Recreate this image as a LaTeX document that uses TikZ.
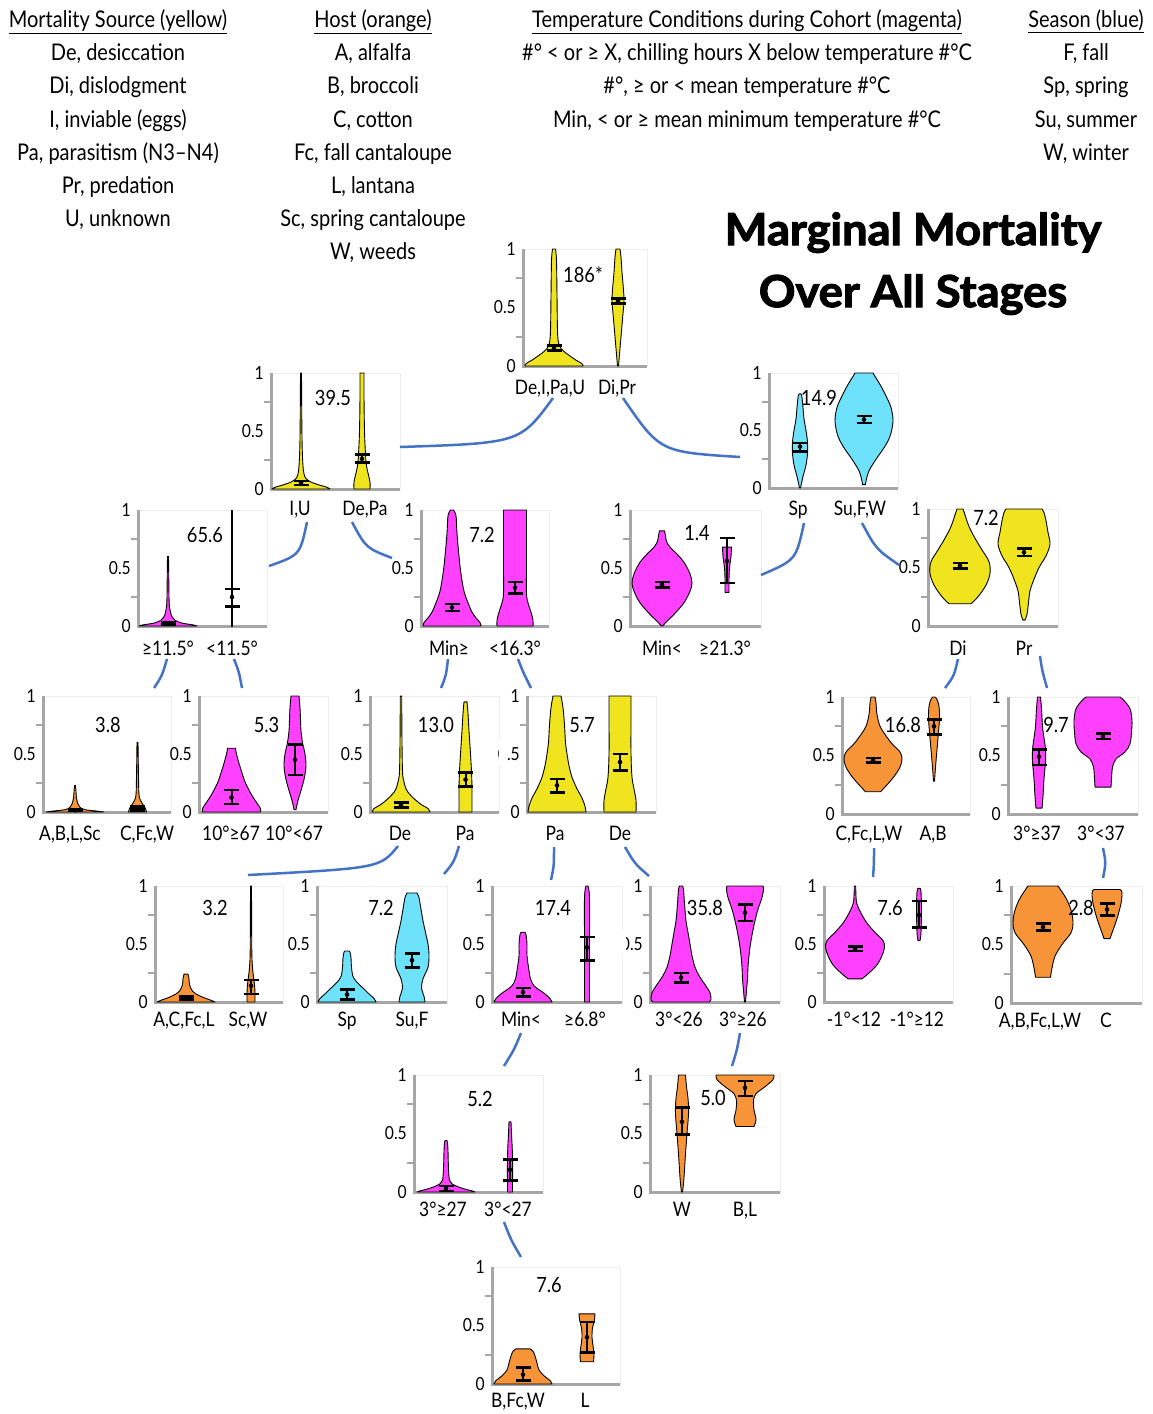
\documentclass[tikz,border=0pt]{standalone}
\usepackage{fontspec}
\setmainfont{Lato}[FakeStretch=0.87]
\newfontfamily\titlefont{Lato}[FakeStretch=1.03,FakeBold=2.5]
\definecolor{vyellow}{RGB}{240,228,30}
\definecolor{vmag}{RGB}{255,64,255}
\definecolor{vcyan}{RGB}{110,226,250}
\definecolor{vorange}{RGB}{247,148,56}
\definecolor{connblue}{RGB}{68,114,196}
\definecolor{axisgray}{RGB}{166,166,166}
\tikzset{
  axisline/.style={draw=axisgray, line width=3pt},
  tickline/.style={draw=axisgray, line width=2pt},
  frameline/.style={draw=black!7, line width=0.6pt},
  violin/.style={draw=black, line width=0.9pt, line join=round},
  ebarv/.style={draw=black, line width=2pt},
  ebarc/.style={draw=black, line width=2.6pt},
  conn/.style={draw=connblue, line width=2.5pt},
  ticklab/.style={font=\fontsize{18}{18}\selectfont, inner sep=0pt, anchor=east},
  lab/.style={font=\fontsize{20}{20}\selectfont, inner sep=0pt, anchor=base},
  num/.style={font=\fontsize{21}{21}\selectfont, inner sep=0pt, anchor=base},
  hdr/.style={font=\fontsize{23}{23}\selectfont, inner sep=0pt, anchor=base},
  ttl/.style={font=\titlefont\bfseries\fontsize{44}{44}\selectfont, inner sep=0pt, anchor=base},
}
% panel: name, ax, y0, right, H
\newcommand\mkpanel[5]{%
  \draw[frameline] (#2,#3-#5) rectangle (#4,#3);
  \draw[tickline] (#2-7,#3-0.25*#5) -- (#2,#3-0.25*#5) (#2-7,#3-0.75*#5) -- (#2,#3-0.75*#5);
  \draw[axisline] (#2,#3-#5) -- (#2,#3) -- (#4,#3);
  \node[ticklab] (#1t1) at (#2-7,#3-#5) {1};
  \node[ticklab] (#1t5) at (#2-7,#3-0.5*#5) {0.5};
  \node[ticklab] (#1t0) at (#2-7,#3) {0};
}
% violin: cx, y0, H, colour, list v/hw
\newcommand\mkviolin[5]{%
  \gdef\vR{}\gdef\vL{}%
  \foreach \vv/\ww in {#5}{\xdef\vR{\vR(#1+\ww,#2-\vv*#3)}\xdef\vL{(#1-\ww,#2-\vv*#3)\vL}}%
  \edef\vtmp{\noexpand\draw[violin,fill=#4] plot[smooth,tension=0.55] coordinates {\vR} -- plot[smooth,tension=0.55] coordinates {\vL} -- cycle;}%
  \vtmp
}
% error bar: cx, y0, H, lo, hi, mean
\newcommand\mkebar[6]{%
  \draw[ebarv] (#1,#2-#4*#3) -- (#1,#2-#5*#3);
  \draw[ebarc] (#1-7.5,#2-#4*#3) -- (#1+7.5,#2-#4*#3) (#1-7.5,#2-#5*#3) -- (#1+7.5,#2-#5*#3);
  \fill (#1,#2-#6*#3) circle (2.3);
}
\begin{document}
\begin{tikzpicture}[x=1pt,y=-1pt]
\useasboundingbox[fill=white] (0,0) rectangle (1152,1414);

% ---------- header ----------
\foreach \t [count=\i from 0] in {{\underline{Mortality Source (yellow)}},{De, desiccation},{Di, dislodgment},{I, inviable (eggs)},{Pa, parasitism (N3–N4)},{Pr, predation},{U, unknown}}
  \node[hdr] (hA\i) at (118,27.5+33.2*\i) {\t};
\foreach \t [count=\i from 0] in {{\underline{Host (orange)}},{A, alfalfa},{B, broccoli},{C, cotton},{Fc, fall cantaloupe},{L, lantana},{Sc, spring cantaloupe},{W, weeds}}
  \node[hdr] (hB\i) at (373,27.5+33.2*\i) {\t};
\foreach \t [count=\i from 0] in {{\underline{Temperature Conditions during Cohort (magenta)}},{\#° < or ≥ X, chilling hours X below temperature \#°C},{\#°, ≥ or < mean temperature \#°C},{Min, < or ≥ mean minimum temperature \#°C}}
  \node[hdr] (hC\i) at (747,27.5+33.2*\i) {\t};
\foreach \t [count=\i from 0] in {{\underline{Season (blue)}},{F, fall},{Sp, spring},{Su, summer},{W, winter}}
  \node[hdr] (hD\i) at (1086,27.5+33.2*\i) {\t};
\node[ttl] (title1) at (913,245) {Marginal Mortality};
\node[ttl] (title2) at (913,307) {Over All Stages};

% ---------- root ----------
\mkpanel{r}{523}{366}{647}{117}
\mkviolin{554}{366}{117}{vyellow}{0/29,0.02/28,0.05/22,0.08/17,0.11/12,0.15/7,0.2/4.5,0.3/3.5,0.6/3,0.9/2.5,1/1.5}
\mkebar{554}{366}{117}{0.135}{0.175}{0.155}
\mkviolin{618}{366}{117}{vyellow}{0/0.5,0.1/1.5,0.3/3.5,0.45/5,0.55/6,0.65/5.5,0.8/4,0.93/3,1/2}
\mkebar{618}{366}{117}{0.535}{0.575}{0.555}
\node[num] (rn) at (583,282) {186*};
\node[lab] (rl1) at (550,394) {De,I,Pa,U};
\node[lab] (rl2) at (617,394) {Di,Pr};

% ---------- A ----------
\mkpanel{a}{271}{489}{400}{116}
\mkviolin{301}{489}{116}{vyellow}{0/29,0.015/26,0.035/18,0.06/10,0.09/5,0.13/3,0.2/2,0.35/1.2,0.6/0.8,1/0.5}
\mkebar{301}{489}{116}{0.035}{0.07}{0.053}
\mkviolin{362}{489}{116}{vyellow}{0/8,0.06/8,0.12/6.5,0.2/4.5,0.3/3.5,0.5/2.5,0.8/2,1/2}
\mkebar{362}{489}{116}{0.23}{0.295}{0.26}
\node[num] (an) at (333,405) {39.5};
\node[lab] (al1) at (300,515) {I,U};
\node[lab] (al2) at (365,515) {De,Pa};

% ---------- B ----------
\mkpanel{b}{769}{488}{898}{115}
\mkviolin{800}{488}{115}{vcyan}{0/0.5,0.1/3,0.2/6,0.3/7.5,0.4/7.5,0.5/6,0.6/4,0.7/3,0.8/1.8,0.82/0.5}
\mkebar{800}{488}{115}{0.32}{0.39}{0.36}
\mkviolin{864}{488}{115}{vcyan}{0.03/1.5,0.08/2.5,0.15/5,0.25/12,0.35/20,0.45/26,0.58/29,0.7/27,0.8/22,0.9/16,0.97/11,1/9}
\mkebar{864}{488}{115}{0.565}{0.625}{0.595}
\node[num] (bn) at (819,405) {14.9};
\node[lab] (bl1) at (798,515) {Sp};
\node[lab] (bl2) at (860,515) {Su,F,W};

% ---------- C ----------
\mkpanel{c}{138}{626}{267}{116}
\mkviolin{168}{626}{116}{vmag}{0/29,0.01/25,0.025/14,0.05/7,0.08/4,0.12/2.5,0.2/1.2,0.4/0.8,0.6/0.5}
\mkebar{168}{626}{116}{0.01}{0.028}{0.02}
\mkviolin{232}{626}{116}{vmag}{0/0.6,1/0.6}
\mkebar{232}{626}{116}{0.17}{0.32}{0.25}
\node[num] (cn) at (205,542) {65.6};
\node[lab] (cl1) at (168,655) {≥11.5°};
\node[lab] (cl2) at (232,655) {<11.5°};

% ---------- D ----------
\mkpanel{d}{421}{626}{549}{116}
\mkviolin{452}{626}{116}{vmag}{0/29,0.03/28,0.07/24,0.12/20,0.2/16,0.3/12,0.45/9,0.6/7,0.8/5,0.95/4,1/1.5}
\mkebar{452}{626}{116}{0.13}{0.19}{0.16}
\mkviolin{515}{626}{116}{vmag}{0/18,0.05/18,0.12/16,0.2/13,0.28/11.5,0.5/11.5,0.8/11.5,1/11.5}
\mkebar{515}{626}{116}{0.28}{0.38}{0.33}
\node[num] (dn) at (482,542) {7.2};
\node[lab] (dl1) at (449,655) {Min≥};
\node[lab] (dl2) at (515,655) {<16.3°};

% ---------- E ----------
\mkpanel{e}{630}{626}{761}{116}
\mkviolin{662}{626}{116}{vmag}{0/0.5,0.05/6,0.1/12,0.2/22,0.3/28,0.37/30,0.45/28,0.55/22,0.62/15,0.68/8,0.73/4.5,0.78/3.5,0.82/2.5}
\mkebar{662}{626}{116}{0.33}{0.38}{0.355}
\mkviolin{727}{626}{116}{vmag}{0.29/2,0.4/2,0.5/2.5,0.6/4,0.68/4.5}
\mkebar{727}{626}{116}{0.37}{0.76}{0.56}
\node[num] (en) at (697,540) {1.4};
\node[lab] (el1) at (662,655) {Min<};
\node[lab] (el2) at (725,655) {≥21.3°};

% ---------- F ----------
\mkpanel{f}{928}{626}{1058}{117}
\mkviolin{960}{626}{117}{vyellow}{0.19/11,0.25/18,0.35/26,0.45/30,0.55/29,0.65/22,0.75/15,0.85/9,0.95/5,1/3}
\mkebar{960}{626}{117}{0.49}{0.54}{0.515}
\mkviolin{1024}{626}{117}{vyellow}{0.05/1,0.1/3,0.2/4.5,0.3/6,0.4/10,0.5/15,0.6/22,0.7/26,0.8/24,0.9/22,0.97/20,1/18}
\mkebar{1024}{626}{117}{0.6}{0.66}{0.63}
\node[num] (fn) at (986,525) {7.2};
\node[lab] (fl1) at (958,655) {Di};
\node[lab] (fl2) at (1024,655) {Pr};

% ---------- G ----------
\mkpanel{g}{43}{812}{171}{116}
\mkviolin{75}{812}{116}{vorange}{0/29,0.008/22,0.02/10,0.04/5,0.07/3,0.12/1.5,0.2/0.8,0.23/0.3}
\mkebar{75}{812}{116}{0.008}{0.022}{0.015}
\mkviolin{137.5}{812}{116}{vorange}{0/9,0.03/8,0.07/5,0.1/3,0.15/1.5,0.3/1,0.6/0.5}
\mkebar{137.5}{812}{116}{0.015}{0.045}{0.03}
\draw[ebarc] (137.5-7.5,812-0.03*116) -- (137.5+7.5,812-0.03*116);
\node[num] (gn) at (108,732) {3.8};
\node[lab] (gl1) at (70,840) {A,B,L,Sc};
\node[lab] (gl2) at (147,840) {C,Fc,W};

% ---------- H ----------
\mkpanel{h}{199}{812}{328}{116}
\mkviolin{231.5}{812}{116}{vmag}{0/29,0.03/29,0.07/26,0.15/20,0.25/14,0.35/10,0.45/6.5,0.52/4.5,0.55/4}
\mkebar{231.5}{812}{116}{0.07}{0.19}{0.125}
\mkviolin{295}{812}{116}{vmag}{0.02/1,0.1/3,0.2/6.5,0.3/9.5,0.4/11,0.5/10,0.6/7.5,0.7/6,0.8/5.5,0.9/5,1/4}
\mkebar{295}{812}{116}{0.32}{0.58}{0.45}
\node[num] (hn) at (266.5,732) {5.3};
\node[lab] (hl1) at (231,840) {10°≥67};
\node[lab] (hl2) at (294,840) {10°<67};

% ---------- I ----------
\mkpanel{i}{370}{812}{499}{116}
\mkviolin{401}{812}{116}{vyellow}{0/29,0.03/27,0.06/21,0.1/15,0.15/9,0.2/5,0.28/2.5,0.35/1.5,0.6/1,1/0.7}
\mkebar{401}{812}{116}{0.04}{0.08}{0.06}
\mkviolin{465.5}{812}{116}{vyellow}{0/6.5,0.1/6.5,0.2/6.5,0.35/6,0.5/5,0.7/3.5,0.85/2.5,0.95/1.5}
\mkebar{465.5}{812}{116}{0.22}{0.34}{0.28}
\node[num] (in) at (436,732) {13.0};
\node[lab] (il1) at (400,840) {De};
\node[lab] (il2) at (465,840) {Pa};

% ---------- J ----------
\mkpanel{j}{527}{812}{656}{116}
\fill[white] (499,740) rectangle (507,765);
\mkviolin{557}{812}{116}{vyellow}{0/29,0.05/28,0.12/25,0.2/20,0.3/15,0.4/12,0.5/10,0.6/8.5,0.75/7.5,0.9/6,1/4}
\mkebar{557}{812}{116}{0.17}{0.285}{0.23}
\mkviolin{620}{812}{116}{vyellow}{0/16,0.1/16,0.2/14,0.3/12,0.5/11,0.8/11,1/11}
\mkebar{620}{812}{116}{0.36}{0.5}{0.43}
\node[num] (jn) at (582,732) {5.7};
\node[lab] (jl1) at (555,840) {Pa};
\node[lab] (jl2) at (620,840) {De};

% ---------- K ----------
\mkpanel{k}{842}{814}{970}{117}
\mkviolin{873}{814}{117}{vorange}{0.19/7.5,0.25/14,0.32/21,0.4/27,0.47/29,0.53/27,0.6/19,0.68/12,0.75/7,0.85/4,0.95/3,1/2}
\mkebar{873}{814}{117}{0.44}{0.48}{0.46}
\mkviolin{934}{814}{117}{vorange}{0.28/0.5,0.4/1.5,0.55/3,0.7/4.5,0.82/5.5,0.92/5,0.98/3,1/1}
\mkebar{934}{814}{117}{0.68}{0.81}{0.75}
\node[num] (kn) at (903,732) {16.8};
\node[lab] (kl1) at (869,840) {C,Fc,L,W};
\node[lab] (kl2) at (933,840) {A,B};

% ---------- L ----------
\mkpanel{l}{1008}{814}{1138}{117}
\mkviolin{1039}{814}{117}{vmag}{0.05/3,0.15/4,0.3/5,0.45/6.5,0.55/6.5,0.65/5,0.75/3.5,0.9/2.5,1/1.5}
\mkebar{1039}{814}{117}{0.42}{0.55}{0.49}
\mkviolin{1103}{814}{117}{vmag}{0.23/8,0.3/8.5,0.4/9.5,0.47/13,0.53/22,0.6/27,0.7/28.5,0.8/29,0.9/27,0.97/21,1/17}
\mkebar{1103}{814}{117}{0.64}{0.69}{0.665}
\node[num] (ln) at (1056,732) {9.7};
\node[lab] (ll1) at (1037,840) {3°≥37};
\node[lab] (ll2) at (1101,840) {3°<37};

% ---------- M ----------
\mkpanel{m}{155}{1002}{283}{116}
\mkviolin{186}{1002}{116}{vorange}{0/29,0.015/25,0.04/17,0.07/10,0.1/6,0.15/3.5,0.2/3,0.24/2}
\mkebar{186}{1002}{116}{0.022}{0.05}{0.035}
\mkviolin{251}{1002}{116}{vorange}{0/4,0.08/4,0.15/3.5,0.22/2.5,0.3/1.5,0.45/0.8,1/0.5}
\mkebar{251}{1002}{116}{0.07}{0.19}{0.14}
\node[num] (mn) at (215,915) {3.2};
\node[lab] (ml1) at (184,1026) {A,C,Fc,L};
\node[lab] (ml2) at (248,1026) {Sc,W};

% ---------- N ----------
\mkpanel{n}{317}{1002}{447}{116}
\mkviolin{347}{1002}{116}{vcyan}{0/29,0.03/27,0.07/22,0.12/16,0.17/10,0.22/6,0.3/4.5,0.38/4,0.43/3,0.44/2}
\mkebar{347}{1002}{116}{0.02}{0.11}{0.065}
\mkviolin{412}{1002}{116}{vcyan}{0/13,0.05/12,0.12/9.5,0.2/11,0.3/16,0.4/17,0.5/16,0.6/13.5,0.7/11,0.8/9,0.9/7,0.94/5}
\mkebar{412}{1002}{116}{0.3}{0.42}{0.36}
\node[num] (nn) at (381,915) {7.2};
\node[lab] (nl1) at (347,1026) {Sp};
\node[lab] (nl2) at (412,1026) {Su,F};

% ---------- O ----------
\mkpanel{o}{492}{1002}{622}{116}
\mkviolin{523}{1002}{116}{vmag}{0/29,0.03/27,0.07/22,0.1/17,0.14/11,0.2/7.5,0.3/5.5,0.4/4,0.5/4,0.58/3,0.6/2}
\mkebar{523}{1002}{116}{0.05}{0.12}{0.085}
\mkviolin{587}{1002}{116}{vmag}{0/2.5,0.5/2.5,0.9/2.5,1/1}
\mkebar{587}{1002}{116}{0.36}{0.56}{0.47}
\node[num] (on) at (553,915) {17.4};
\node[lab] (ol1) at (521,1026) {Min<};
\node[lab] (ol2) at (585,1026) {≥6.8°};

% ---------- P ----------
\mkpanel{p}{650}{1002}{780}{116}
\fill[white] (620,930) rectangle (626,955);
\mkviolin{681}{1002}{116}{vmag}{0/28,0.02/30,0.08/29,0.15/24,0.22/18.5,0.3/14,0.4/11,0.5/9,0.6/7,0.7/5,0.85/3.5,0.97/2.5,1/1.5}
\mkebar{681}{1002}{116}{0.17}{0.25}{0.21}
\mkviolin{745}{1002}{116}{vmag}{0/0.5,0.1/1.5,0.2/2.5,0.3/3,0.4/4,0.5/5.5,0.6/7.5,0.7/10,0.8/13,0.9/17,0.97/18.5,1/18}
\mkebar{745}{1002}{116}{0.7}{0.84}{0.77}
\node[num] (pn) at (705,915) {35.8};
\node[lab] (pl1) at (679,1026) {3°<26};
\node[lab] (pl2) at (743,1026) {3°≥26};

% ---------- Q ----------
\mkpanel{q}{824}{1002}{953}{116}
\mkviolin{855}{1002}{116}{vmag}{0.2/7,0.25/14,0.32/22,0.4/27,0.47/29.5,0.53/28,0.6/20,0.68/12,0.75/7,0.82/3,0.88/1.2,1/0.7}
\mkebar{855}{1002}{116}{0.44}{0.48}{0.46}
\mkviolin{919}{1002}{116}{vmag}{0.53/1,0.6/2,0.8/2.5,0.95/2,0.98/1}
\mkebar{919}{1002}{116}{0.64}{0.87}{0.75}
\node[num] (qn) at (890,915) {7.6};
\node[lab] (ql1) at (854,1026) {-1°<12};
\node[lab] (ql2) at (917,1026) {-1°≥12};

% ---------- R ----------
\mkpanel{rr}{1011}{1003}{1142}{117}
\mkviolin{1043}{1003}{117}{vorange}{0.22/7.5,0.3/9,0.4/12,0.5/19,0.6/28,0.68/30,0.78/28.5,0.88/24,0.95/19,1/15}
\mkebar{1043}{1003}{117}{0.62}{0.68}{0.65}
\mkviolin{1107}{1003}{117}{vorange}{0.55/3,0.6/5,0.67/8,0.75/11,0.85/14,0.92/15,0.96/14.5,0.97/13}
\mkebar{1107}{1003}{117}{0.75}{0.85}{0.8}
\node[num] (rrn) at (1081,915) {2.8};
\node[lab] (rrl1) at (1040,1027) {A,B,Fc,L,W};
\node[lab] (rrl2) at (1106,1027) {C};

% ---------- S ----------
\mkpanel{s}{414}{1192}{543}{117}
\mkviolin{446}{1192}{117}{vmag}{0/29,0.01/26,0.025/19,0.045/12,0.07/6,0.1/3.5,0.2/2.5,0.35/2,0.42/1.5,0.44/0.8}
\mkebar{446}{1192}{117}{0.01}{0.05}{0.03}
\mkviolin{510}{1192}{117}{vmag}{0/2.5,0.3/2.5,0.5/1.5,0.6/1}
\mkebar{510}{1192}{117}{0.1}{0.28}{0.19}
\node[num] (sn) at (480,1106) {5.2};
\node[lab] (sl1) at (443,1216) {3°≥27};
\node[lab] (sl2) at (508,1216) {3°<27};

% ---------- T ----------
\mkpanel{t}{650}{1192}{780}{117}
\mkviolin{682}{1192}{117}{vorange}{0/0.5,0.1/1.8,0.3/3.3,0.5/5,0.6/6,0.7/6.6,0.8/6,0.9/4.5,1/3.5}
\mkebar{682}{1192}{117}{0.49}{0.72}{0.6}
\mkviolin{745}{1192}{117}{vorange}{0.56/9,0.62/11,0.7/9,0.78/8.5,0.84/11,0.9/20,0.96/28,1/29}
\mkebar{745}{1192}{117}{0.82}{0.95}{0.89}
\node[num] (tn) at (713,1105) {5.0};
\node[lab] (tl1) at (682,1216) {W};
\node[lab] (tl2) at (745,1216) {B,L};

% ---------- U ----------
\mkpanel{u}{492}{1384}{620}{117}
\mkviolin{523}{1384}{117}{vorange}{0/29,0.03/27,0.07/21,0.12/16,0.18/14,0.24/12,0.28/10,0.3/7}
\mkebar{523}{1384}{117}{0.03}{0.14}{0.08}
\mkviolin{587}{1384}{117}{vorange}{0.19/6.5,0.25/7,0.33/6,0.4/5,0.48/5.5,0.55/7.5,0.6/8}
\mkebar{587}{1384}{117}{0.27}{0.53}{0.4}
\node[num] (un) at (549,1292) {7.6};
\node[lab] (ul1) at (518,1407) {B,Fc,W};
\node[lab] (ul2) at (585,1407) {L};

% ---------- connectors ----------
\coordinate (k1a) at (553,398);  \coordinate (k1b) at (400,447);
\coordinate (k2a) at (623,398);  \coordinate (k2b) at (740,457);
\coordinate (k3a) at (307,522);  \coordinate (k3b) at (269,566);
\coordinate (k4a) at (352,522);  \coordinate (k4b) at (392,558);
\coordinate (k5a) at (804,523);  \coordinate (k5b) at (761,575);
\coordinate (k6a) at (862,523);  \coordinate (k6b) at (899,565);
\coordinate (k7a) at (167,659);  \coordinate (k7b) at (154,688);
\coordinate (k8a) at (234,659);  \coordinate (k8b) at (242,688);
\coordinate (k9a) at (448,659);  \coordinate (k9b) at (441,688);
\coordinate (k10a) at (518,659); \coordinate (k10b) at (531,688);
\coordinate (k11a) at (958,659); \coordinate (k11b) at (945,688);
\coordinate (k12a) at (1040,656); \coordinate (k12b) at (1047,688);
\coordinate (k13a) at (398,846); \coordinate (k13b) at (248,875);
\coordinate (k14a) at (459,846); \coordinate (k14b) at (444,874);
\coordinate (k15a) at (554,847); \coordinate (k15b) at (551,880);
\coordinate (k16a) at (625,847); \coordinate (k16b) at (649,876);
\coordinate (k17a) at (874,848); \coordinate (k17b) at (873,877);
\coordinate (k18a) at (1103,848); \coordinate (k18b) at (1103,878);
\coordinate (k19a) at (521,1033); \coordinate (k19b) at (504,1066);
\coordinate (k20a) at (740,1033); \coordinate (k20b) at (732,1066);
\coordinate (k21a) at (504,1222); \coordinate (k21b) at (521,1257);
\draw[conn] (k1a) .. controls (520,443) .. (k1b);
\draw[conn] (k2a) .. controls (660,452) .. (k2b);
\draw[conn] (k3a) .. controls (300,555) .. (k3b);
\draw[conn] (k4a) .. controls (366,548) .. (k4b);
\draw[conn] (k5a) .. controls (796,560) .. (k5b);
\draw[conn] (k6a) .. controls (876,549) .. (k6b);
\draw[conn] (k7a) .. controls (162,676) .. (k7b);
\draw[conn] (k8a) .. controls (239,672) .. (k8b);
\draw[conn] (k9a) .. controls (446,676) .. (k9b);
\draw[conn] (k10a) .. controls (523,672) .. (k10b);
\draw[conn] (k11a) .. controls (954,676) .. (k11b);
\draw[conn] (k12a) .. controls (1042,670) .. (k12b);
\draw[conn] (k13a) .. controls (380,868) .. (k13b);
\draw[conn] (k14a) .. controls (454,862) .. (k14b);
\draw[conn] (k15a) .. controls (554,866) .. (k15b);
\draw[conn] (k16a) .. controls (635,864) .. (k16b);
\draw[conn] (k17a) .. controls (874,864) .. (k17b);
\draw[conn] (k18a) .. controls (1106,863) .. (k18b);
\draw[conn] (k19a) .. controls (514,1050) .. (k19b);
\draw[conn] (k20a) .. controls (737,1050) .. (k20b);
\draw[conn] (k21a) .. controls (511,1240) .. (k21b);
\end{tikzpicture}
\end{document}
